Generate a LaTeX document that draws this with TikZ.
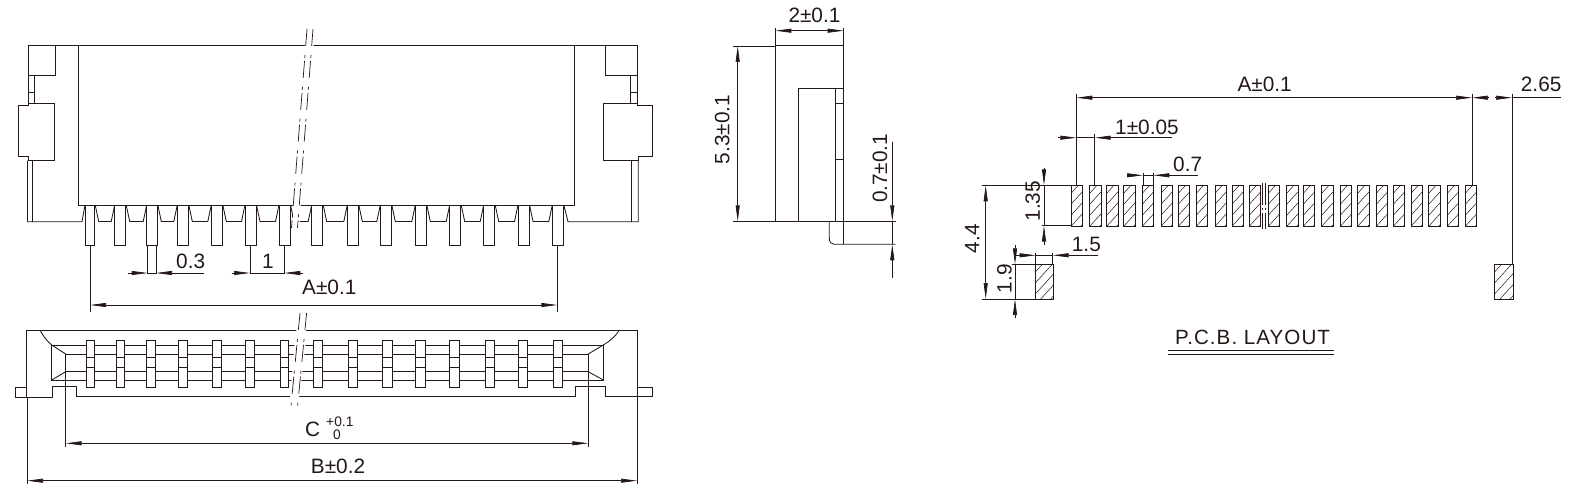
\documentclass[tikz,border=0pt]{standalone}
\usepackage{fontspec}
\setmainfont{Liberation Sans}
\usetikzlibrary{arrows.meta}
\definecolor{inkline}{HTML}{231815}
\tikzset{
  part/.style={draw=inkline,line width=.85pt},
  dimline/.style={draw=inkline,line width=.7pt},
  dimtip/.style={dimline,-{Triangle[length=16pt,width=4pt]}},
  dimboth/.style={dimline,{Triangle[length=16pt,width=4pt]}-{Triangle[length=16pt,width=4pt]}},
  breakline/.style={draw=inkline,line width=.7pt,dash pattern=on 17pt off 9pt on 3pt off 3pt},
  dimtext/.style={font=\fontsize{20.8}{22}\selectfont,text=inkline,inner sep=0pt,anchor=base west},
  dimup/.style={dimtext,rotate=90,anchor=base},
  smalltext/.style={dimtext,font=\fontsize{13.8}{14}\selectfont},
}
\newcommand{\hatchpad}[4]{%
  \begin{scope}
    \clip (#1,#2) rectangle (#3,#4);
    \foreach \hk in {0,...,7}
      \draw[inkline,line width=.5pt] (#1,#2+\hk*11-3) -- ++(20,-22);
  \end{scope}
  \draw[part,line width=.7pt] (#1,#2) rectangle (#3,#4);}
\begin{document}
\begin{tikzpicture}[x=1pt,y=-1pt]
\useasboundingbox (0,0) rectangle (1585,503);
% front view
\draw[part] (28.5,45.5) -- (637,45.5);
\draw[part] (78,45.5) -- (78,205) -- (574.7,205) -- (574.7,45.5);
\draw[part] (28.5,45.5) -- (28.5,103.3);
\draw[part] (28.5,75.5) -- (55.5,75.5) -- (55.5,45.5);
\draw[part] (34.5,75.5) -- (34.5,103.3);
\draw[part] (28.5,92) -- (34.5,92);
\draw[part] (28.5,105.6) -- (28.5,103.3) -- (54.3,103.3) -- (54.3,160.7) -- (28,160.7) -- (28,156) -- (18.3,156) -- (18.3,105.6) -- cycle;
\draw[part] (27.5,160.7) -- (27.5,221.7) -- (82,221.7) -- (85,205);
\draw[part] (32.5,160.7) -- (32.5,221.7);
\draw[part] (637,45.5) -- (637,103.3);
\draw[part] (605,45.5) -- (605,75.5) -- (637,75.5);
\draw[part] (630.7,75.5) -- (630.7,103.3);
\draw[part] (630.7,92) -- (637,92);
\draw[part] (637,105.6) -- (637,103.3) -- (603.7,103.3) -- (603.7,160.7) -- (638,160.7) -- (638,156) -- (652.5,156) -- (652.5,105.6) -- cycle;
\draw[part] (638.3,160.7) -- (638.3,221.7) -- (568,221.7) -- (563.8,205);
\draw[part] (631.7,160.7) -- (631.7,221.7);
\foreach \ga/\gb in {94.7/114.7,125.7/146.7,157.3/177.3,188.3/211.3,222.3/245,256/279,290/311.7,322.7/347.3,358.3/380.3,391.3/415.3,426.3/449.7,460.7/483.7,494.7/518,529/552.3}
  \draw[part] (\ga+.5,205) -- (\ga+4,221.5) -- (\gb-3.5,221.5) -- (\gb,205);
\fill[white] (305,44) -- (313.5,44) -- (300.5,206) -- (299.5,223) -- (292.5,223) -- (293.5,206) -- cycle;
\draw[breakline] (307,29) -- (291.5,228);
\draw[breakline] (313,29) -- (297.5,228);
\foreach \pl/\pr in {85.7/94.7,114.7/125.7,146.7/157.3,177.3/188.3,211.3/222.3,245/256,279/290,311.7/322.7,347.3/358.3,380.3/391.3,415.3/426.3,449.7/460.7,483.7/494.7,518/529,552.3/563.3}
  \draw[part] (\pl,205) rectangle (\pr,245.3);
% front view dimensions
\draw[dimline] (147.7,245.3) -- (147.7,274);
\draw[dimline] (156,245.3) -- (156,274);
\draw[dimtip] (128.3,273) -- (147.7,273);
\draw[dimtip] (204,273) -- (156,273);
\draw[dimline] (147.7,273) -- (156,273);
\node (dimPitchWidth) [dimtext] at (176,268.7) {0.3};
\draw[dimline] (250,245.3) -- (250,274);
\draw[dimline] (284.3,245.3) -- (284.3,274);
\draw[dimtip] (231.7,273) -- (250,273);
\draw[dimtip] (303,273) -- (284.3,273);
\draw[dimline] (250,273) -- (284.3,273);
\node (dimPitch) [dimtext] at (262,268.7) {1};
\draw[dimline] (90,245.3) -- (90,311.7);
\draw[dimline] (557.3,245.3) -- (557.3,311.7);
\draw[dimboth] (90,305) -- (557.3,305);
\node (dimA) [dimtext] at (302,294) {A±0.1};
% bottom view
\draw[part] (15.3,387) rectangle (26.7,397);
\draw[part] (637,387) rectangle (652.7,396.5);
\draw[part] (26.7,397) -- (26.7,330) -- (637,330) -- (637,396.5) -- (605,396.5) -- (605,386.3) -- (575.7,386.3) -- (575.7,396.5) -- (76.7,396.5) -- (76.7,386.3) -- (52.7,386.3) -- (52.7,397) -- cycle;
\draw[part] (40,330) .. controls (43,336) and (47,341) .. (51.7,345);
\draw[part] (619.3,330) .. controls (615,337) and (610,341) .. (603.3,345);
\draw[part] (51.7,345) -- (603.3,345) -- (603.3,380) -- (51.7,380) -- cycle;
\draw[part] (65.7,354) -- (588.3,354) -- (588.3,371.7) -- (65.7,371.7) -- cycle;
\draw[part] (51.7,345) -- (65.7,354);
\draw[part] (51.7,380) -- (65.7,371.7);
\draw[part] (603.3,345) -- (588.3,354);
\draw[part] (603.3,380) -- (588.3,371.7);
\foreach \pl/\pr in {86/94.7,116/124.7,146.3/155,178.7/187.3,212.7/221.3,245.7/254.3,280/288.7,313.3/322.3,348.7/357.7,382.7/392,415.7/425,449.7/459,485/494.3,518/527.3,553.7/562.3} {
  \draw[part,fill=white] (\pl,340) rectangle (\pr,387.7);
  \draw[part] (\pl,357.7) -- (\pr,357.7);
  \draw[part] (\pl,367.7) -- (\pr,367.7);
}
\fill[white] (296.5,329) -- (306,329) -- (303.8,345) -- (305.5,345) -- (302,375) -- (299,398) -- (290,398) -- (294.5,345) -- cycle;
\draw[breakline] (300,313) -- (290.8,408);
\draw[breakline] (306.6,313) -- (297.4,408);
% bottom view dimensions
\draw[dimline] (65.7,371.7) -- (65.7,446.7);
\draw[dimline] (588.3,371.7) -- (588.3,446.7);
\draw[dimboth] (65.7,443.3) -- (588.3,443.3);
\node (dimC) [dimtext] at (305,436.7) {C};
\node (dimCup) [smalltext] at (326,426.7) {+0.1};
\node (dimClow) [smalltext] at (332.8,439.3) {0};
\draw[dimline] (27,397) -- (27,484);
\draw[dimline] (637,396.5) -- (637,484);
\draw[dimboth] (27,480.7) -- (637,480.7);
\node (dimB) [dimtext] at (310.7,473.3) {B±0.2};
% side view
\draw[part] (775.3,45) rectangle (843.7,221.3);
\draw[part] (798.3,221.3) -- (798.3,88.3) -- (843.7,88.3);
\draw[part] (835.3,88.3) -- (835.3,221.3);
\draw[part] (835.3,103.7) -- (843.7,103.7);
\draw[part] (835.3,159) -- (843.7,159);
\draw[part] (843.7,221.3) -- (843.7,244.3);
\draw[part] (829.3,221.3) -- (829.3,238) .. controls (829.3,242) and (831,244.3) .. (834,244.3) -- (895.7,244.3);
\draw[dimline] (843.7,221.3) -- (895.7,221.3);
\draw[dimline] (775.3,45) -- (775.3,28.3);
\draw[dimline] (843.7,45) -- (843.7,28.3);
\draw[dimboth] (775.3,30.7) -- (843.7,30.7);
\node (dimDepth) [dimtext] at (788.3,22.7) {2±0.1};
\draw[dimline] (733.3,46) -- (775.3,46);
\draw[dimline] (733.3,221.3) -- (775.3,221.3);
\draw[dimboth] (737.7,46) -- (737.7,221.3);
\node (dimHeight) [dimup] at (729.3,129.5) {5.3±0.1};
\draw[dimtip] (892.3,141.7) -- (892.3,221.3);
\draw[dimtip] (892.3,278.3) -- (892.3,244.3);
\draw[dimline] (892.3,221.3) -- (892.3,244.3);
\node (dimFoot) [dimup] at (887,168.3) {0.7±0.1};
% pcb layout
\foreach \pl in {1071,1089.7,1106.7,1123.7,1142.3,1161,1178.3,1196.3,1215,1232,1249.3,1268.3,1286.7,1303.3,1321.7,1340.3,1357.7,1376.3,1393.3,1411,1428.7,1447.3,1465.3}
  \hatchpad{\pl}{185.3}{\pl+11.3}{226.7};
\hatchpad{1035}{264.3}{1053.7}{299}
\hatchpad{1494.3}{264.3}{1513}{299}
\draw[dimline,dash pattern=on 22pt off 2.5pt on 2.5pt off 2.5pt on 30pt off 1pt] (1262.7,183.3) -- (1262.7,229);
\draw[dimline,dash pattern=on 22pt off 2.5pt on 2.5pt off 2.5pt on 30pt off 1pt] (1265.7,183.3) -- (1265.7,229);
% pcb layout dimensions
\draw[dimline] (1076.3,185.3) -- (1076.3,94);
\draw[dimline] (1472,185.3) -- (1472,94);
\draw[dimline] (1512,264.3) -- (1512,94);
\draw[dimboth] (1076.3,97.7) -- (1472,97.7);
\node (dimPadA) [dimtext] at (1237.3,91.7) {A±0.1};
\draw[dimtip] (1488.3,97.7) -- (1472,97.7);
\draw[dimtip] (1495,97.7) -- (1512,97.7);
\draw[dimline] (1512,97.7) -- (1561,97.7);
\node (dimOffset) [dimtext] at (1520.7,91.7) {2.65};
\draw[dimline] (1094.7,185.3) -- (1094.7,134.3);
\draw[dimtip] (1057.7,137.7) -- (1076.3,137.7);
\draw[dimtip] (1171.7,137.7) -- (1094.7,137.7);
\draw[dimline] (1076.3,137.7) -- (1094.7,137.7);
\node (dimPadPitch) [dimtext] at (1115,134) {1±0.05};
\draw[dimline] (1143,185.3) -- (1143,173.3);
\draw[dimline] (1153.3,185.3) -- (1153.3,173.3);
\draw[dimtip] (1126.7,175.3) -- (1143,175.3);
\draw[dimtip] (1197.7,175.3) -- (1153.3,175.3);
\draw[dimline] (1143,175.3) -- (1153.3,175.3);
\node (dimPadWidth) [dimtext] at (1173,171) {0.7};
\draw[dimline] (981.7,185.3) -- (1071,185.3);
\draw[dimline] (1041.7,225.7) -- (1071,225.7);
\draw[dimtip] (1044,167.7) -- (1044,185.3);
\draw[dimtip] (1044,245) -- (1044,225.7);
\draw[dimline] (1044,185.3) -- (1044,225.7);
\node (dimPadLen) [dimup] at (1039.8,201.3) {1.35};
\draw[dimline] (981.7,299) -- (1035,299);
\draw[dimboth] (985.7,185.3) -- (985.7,299);
\node (dimSpan) [dimup] at (979.3,238.8) {4.4};
\draw[dimline] (1011.7,264.3) -- (1035,264.3);
\draw[dimtip] (1015,245) -- (1015,264.3);
\draw[dimtip] (1015,318.3) -- (1015,299);
\draw[dimline] (1015,264.3) -- (1015,299);
\node (dimTabLen) [dimup] at (1011.7,278.8) {1.9};
\draw[dimline] (1035.7,264.3) -- (1035.7,253.3);
\draw[dimline] (1052.7,264.3) -- (1052.7,253.3);
\draw[dimtip] (1016,255.3) -- (1035.7,255.3);
\draw[dimtip] (1098.3,255.3) -- (1052.7,255.3);
\draw[dimline] (1035.7,255.3) -- (1052.7,255.3);
\node (dimTabWidth) [dimtext] at (1071.7,251.7) {1.5};
\node (pcbTitle) [dimtext,font=\fontsize{20.6}{22}\selectfont\addfontfeature{LetterSpace=5}] at (1175,344) {P.C.B. LAYOUT};
\draw[part] (1168.3,350.3) -- (1334.3,350.3);
\draw[part] (1168.3,354.3) -- (1334.3,354.3);
\end{tikzpicture}
\end{document}
